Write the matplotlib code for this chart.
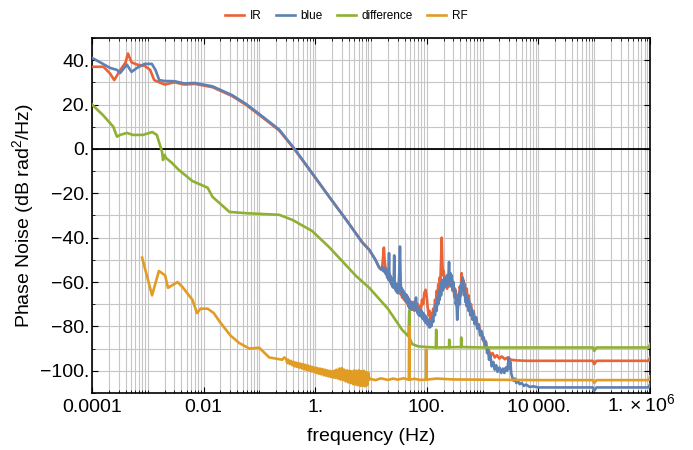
import numpy as np
import matplotlib
matplotlib.use("Agg")
import matplotlib.pyplot as plt
from matplotlib.ticker import FixedLocator, NullFormatter
from matplotlib.transforms import ScaledTranslation

plt.rcParams["font.family"] = ["Liberation Sans", "DejaVu Sans"]
plt.rcParams["mathtext.fontset"] = "custom"
plt.rcParams["mathtext.rm"] = "Liberation Sans"
plt.rcParams["mathtext.it"] = "Liberation Sans:italic"
plt.rcParams["xtick.direction"] = "in"
plt.rcParams["ytick.direction"] = "in"
plt.rcParams["xtick.top"] = True
plt.rcParams["ytick.right"] = True

## data (frequency in Hz, phase noise in dB rad^2/Hz)
ir_f = [1e-4, 1.6e-4, 2.1e-4, 2.5e-4, 3.2e-4, 4e-4, 4.4e-4, 5.1e-4, 6.4e-4, 8.8e-4,
        1.1e-3, 1.3e-3, 1.6e-3, 2e-3, 3e-3, 4.5e-3, 7e-3, 0.0144, 0.0325, 0.058,
        0.112, 0.226, 0.42, 0.88, 1.78, 3.6, 6.9, 9.3, 12, 14,
        15.5, 16, 16.5, 17, 17.5, 18, 18.5, 19, 19.5, 20, 20.5, 21, 21.5, 22, 22.5, 23,
        24, 25, 26, 27, 28, 29, 30, 31, 32, 33, 34, 35, 36, 37.5, 39, 40.5, 42, 43.5,
        45, 46.5, 48, 50, 52, 54, 56, 58, 60, 63, 66, 69, 72, 75, 78, 82, 86, 90, 95,
        100, 104, 108, 112, 116, 120, 125, 130, 135, 140, 145, 150, 155, 160, 165, 170,
        175, 180, 185, 190, 195, 200, 210, 220, 230, 240, 250, 260, 270, 280, 290, 300,
        315, 330, 345, 360, 375, 390, 405, 420, 435, 450, 465, 480, 500, 520, 540, 560,
        590, 620, 650, 690, 730, 770, 820, 870, 920, 980, 1050, 1120, 1200, 1300, 1400,
        1500, 1650, 1800, 2000, 2200, 2500, 2800, 3200, 4000, 6000, 2e4, 9.5e4, 1e5,
        1.1e5, 5e5, 9.5e5, 1e6]
ir_db = [37, 37, 34, 31, 35.5, 39, 43, 39, 38, 37.4,
         35.6, 31, 30, 29, 30, 29, 29.3, 27.8, 23.8, 19.8,
         14.3, 8.3, 0, -11, -21.6, -32, -42, -45.5, -50, -53.5,
         -54.5, -52, -48, -44.5, -50, -53, -55.5, -54, -57, -55.5, -58, -56, -59, -57, -60, -58,
         -61, -59, -62, -60.5, -63, -61, -64, -62, -65, -63, -65.5, -64, -67, -65, -68, -66, -69, -67,
         -70, -68, -71, -68.5, -72, -69, -72.5, -69, -71, -68.5, -72, -70, -74, -71, -73, -68, -70, -65, -63.5,
         -67, -72, -75, -73, -77, -74, -76.5, -72, -74, -68, -70, -64, -67, -61, -64, -58,
         -60, -50, -40, -52, -57, -55, -60, -58, -63, -59, -62, -57, -61, -59, -64, -61,
         -67, -64, -70, -66, -68, -62, -64, -56, -61, -59, -64, -61, -66, -63, -69, -66,
         -72, -70, -75, -73, -78, -76, -81, -80, -84, -83, -87, -86.5, -90, -91, -93,
         -92, -94, -93, -94.5, -93.5, -94.8, -94, -95, -95.3, -95.5, -95.5, -95.5, -97,
         -95.5, -95.5, -95.5, -94]

blue_f = [1e-4, 1.4e-4, 2.1e-4, 2.8e-4, 3.2e-4, 4.2e-4, 5.1e-4, 6.4e-4, 8.8e-4, 1.18e-3,
          1.37e-3, 1.6e-3, 2e-3, 3e-3, 4.5e-3, 7e-3, 0.0144, 0.0325, 0.058,
          0.112, 0.226, 0.42, 0.88, 1.78, 3.6, 6.9, 9.3, 12, 14,
          15.5, 16, 16.5, 17, 17.5, 18, 18.5, 19, 19.5, 20, 20.5, 21, 21.4, 22, 22.5, 23,
          23.5, 24, 24.5, 25, 25.5, 26, 26.5, 27, 27.5, 28, 28.5, 29, 29.5, 30, 30.5, 31,
          32, 33, 34, 35, 36, 37, 38, 39, 40, 41, 42, 43, 44, 45, 46, 47, 48, 49, 50,
          52, 54, 56, 58, 60, 62, 64, 66, 68, 70, 72, 75, 78, 81, 84, 87, 90, 93, 96,
          100, 104, 108, 112, 116, 120, 125, 130, 135, 140, 145, 150, 155, 160, 165, 170,
          175, 180, 185, 190, 195, 200, 210, 220, 230, 240, 250, 258, 265, 272, 280, 290,
          300, 310, 320, 330, 340, 350, 360, 370, 380, 390, 400, 410, 420, 430, 440, 450,
          460, 470, 480, 490, 500, 520, 540, 560, 580, 600, 630, 660, 690, 720, 760, 800,
          850, 900, 950, 1000, 1050, 1100, 1150, 1200, 1250, 1300, 1380, 1450, 1550, 1650,
          1750, 1850, 2000, 2150, 2300, 2450, 2600, 2750, 2850, 2950, 3050, 3150, 3250,
          3400, 3600, 3800, 4000, 4300, 4600, 5000, 5500, 6000, 7000, 8000, 1e4, 9.5e4,
          1e5, 1.1e5, 5e5, 9.5e5, 1e6]
blue_db = [41, 39, 36.5, 35.6, 34.2, 38, 34.7, 36.5, 38.3, 38.3,
           35.6, 31, 30.6, 30.5, 29.5, 29.7, 28.2, 24.2, 20.2,
           14.7, 8.7, 0.2, -11, -21.6, -32, -42, -45.5, -50, -53.5,
           -54.5, -53, -55, -53.5, -55.5, -54, -56.5, -55, -58, -56, -59, -47, -58, -60, -57.5, -61,
           -58.5, -62, -59.5, -62.5, -60, -48, -61, -63, -60.5, -64, -61, -64.5, -62, -65, -62, -64,
           -56, -44, -60, -65, -63, -66.5, -64, -67, -65, -68, -65.5, -69, -66, -69.5, -67, -71, -68, -72, -69,
           -72.5, -69.5, -72, -70, -73, -70, -67, -72, -74, -71.5, -75, -72.5, -75.5, -73, -76.5, -74, -77.5, -75, -78.5,
           -76, -79.5, -77, -80.5, -78, -80, -76, -78, -73, -75, -70, -73, -67, -70, -64, -68,
           -62, -66, -60, -64, -59, -63, -58, -62, -57, -61, -51, -60, -56, -62, -57, -63,
           -60, -66, -63, -70, -68, -77, -72, -68, -65, -70, -62, -66, -60, -64, -58, -63,
           -60, -66, -63, -69, -66, -71, -67, -73, -69, -75, -72, -77, -74, -79, -76, -81,
           -79, -84, -82, -86, -85, -89, -87, -92, -90, -95, -93, -98, -96, -99.5,
           -97.5, -100.5, -98.5, -101, -99, -101, -98.5, -100, -97, -94, -99, -96, -101,
           -103, -104.5, -103.5, -105.5, -104.5, -106, -105.5, -106.8, -106.2, -107.3, -107, -107.5, -107.5,
           -109, -107.5, -107.5, -107.5, -106]

diff_f = [1e-4, 1.6e-4, 2.4e-4, 2.8e-4, 3.2e-4, 4.2e-4, 5.4e-4, 8.2e-4, 1.2e-3, 1.45e-3,
          1.8e-3, 1.87e-3, 2e-3, 2.1e-3, 2.7e-3, 3.6e-3, 6.3e-3, 0.0118, 0.0144, 0.029,
          0.06, 0.226, 0.39, 0.88, 1.78, 5.4, 9.3, 20, 36, 47, 48.4, 49.5, 55, 70, 100,
          145, 147, 150, 250, 252, 255, 410, 413, 416, 1000, 1e4, 9.5e4, 1e5, 1.1e5,
          5e5, 9.5e5, 1e6]
diff_db = [20, 15, 10, 5.5, 6.3, 7.2, 6.3, 6.3, 7.6, 6.3,
           -1.4, -5, -2.7, -4, -6.3, -9.5, -14.5, -17.5, -21.6, -28.4,
           -29, -29.7, -32, -37, -44.3, -57.3, -62.6, -72, -81.5, -84.5, -73, -85.5, -88, -89, -89.3,
           -89.5, -81.5, -89.5, -89.4, -86, -89.4, -89.3, -85, -89.3, -89.5, -89.5, -89.5, -91, -89.5,
           -89.5, -89.5, -88]

rf_f = [7.9e-4, 1.19e-3, 1.58e-3, 2.04e-3, 2.3e-3, 3.4e-3, 4.1e-3, 6.3e-3, 7.6e-3, 8.8e-3,
        0.0118, 0.0152, 0.0196, 0.03, 0.0435, 0.066, 0.099, 0.15, 0.256, 0.28,
        0.3, 0.315, 0.33, 0.35, 0.37, 0.39, 0.41, 0.43, 0.45, 0.47, 0.5, 0.52, 0.55,
        0.58, 0.61, 0.64, 0.67, 0.7, 0.74, 0.78, 0.82, 0.86, 0.9, 0.95, 1.0, 1.05,
        1.1, 1.16, 1.22, 1.28, 1.35, 1.42, 1.49, 1.56, 1.64, 1.72, 1.81, 1.9, 2.0,
        2.1, 2.2, 2.3, 2.4, 2.55, 2.7, 2.85, 3.0, 3.15, 3.3, 3.5, 3.7, 3.9, 4.1, 4.3,
        4.5, 4.75, 5.0, 5.25, 5.5, 5.8, 6.1, 6.4, 6.7, 7.0, 7.4, 7.8, 8.2, 8.6, 9.0,
        9.3, 9.5, 12, 15, 20, 25, 30, 38, 46, 47.5, 48.4, 49.3, 60, 75, 95,
        97, 97.5, 98, 150, 300, 1000, 1e4, 9.5e4, 1e5, 1.1e5, 5e5, 9.6e5, 1e6]
rf_db = [-49, -66, -55, -57, -62.6, -60, -62, -68, -74, -72,
         -72, -74, -78, -84, -87.5, -90, -89.6, -94, -95, -94,
         -94.5, -96.5, -95, -97, -95.5, -97.5, -96, -98, -96.3, -98.2, -96.5, -98.6, -96.8,
         -99, -97, -99.3, -97.3, -99.6, -97.6, -100, -98, -100.3, -98.3, -100.6, -98.5, -101,
         -98.8, -101.3, -99, -101.6, -99.2, -102, -99.5, -102.2, -99.8, -102.5, -100, -102.8, -100.2,
         -103, -100, -103.2, -99.5, -103.5, -99, -104, -98.8, -104.2, -99.5, -104.8, -99.8, -105.2, -100, -105.5,
         -100.2, -106, -99.8, -106.2, -100, -106.5, -99.8, -106.8, -100.2, -106.8, -100, -107, -100.5, -106.5, -101,
         -104, -103.6, -104.2, -103.4, -104.1, -103.5, -104, -103.4, -103.9, -104, -80, -104, -103.6, -104.1, -104,
         -103.8, -90.5, -104, -103.5, -103.9, -104, -104.2, -104.2, -105.5, -104.2, -104.2, -104.2, -102.5]

c_ir = "#EB6235"
c_blue = "#5E81B5"
c_diff = "#8FB032"
c_rf = "#E19C24"

fig = plt.figure(figsize=(6.93, 4.5), dpi=100)
ax = fig.add_axes([0.1328, 0.1267, 0.8052, 0.789])

lw = 1.9
ax.plot(ir_f, ir_db, color=c_ir, lw=lw, label="IR", zorder=3)
ax.plot(blue_f, blue_db, color=c_blue, lw=lw, label="blue", zorder=3)
ax.plot(diff_f, diff_db, color=c_diff, lw=lw, label="difference", zorder=3)
ax.plot(rf_f, rf_db, color=c_rf, lw=lw, label="RF", zorder=3)
ax.axhline(0, color="black", lw=1.3, zorder=2)

ax.set_xscale("log")
ax.set_xlim(1e-4, 1e6)
ax.set_ylim(-110, 50)

xmaj = [1e-4, 1e-2, 1, 1e2, 1e4, 1e6]
ax.xaxis.set_major_locator(FixedLocator(xmaj))
xmin = []
for d in range(-4, 6):
    for m in range(1, 10):
        v = m * 10.0 ** d
        if not (m == 1 and (d % 2 == 0)):
            xmin.append(v)
ax.xaxis.set_minor_locator(FixedLocator(xmin))
ax.xaxis.set_minor_formatter(NullFormatter())

yt = [40, 20, 0, -20, -40, -60, -80, -100]
ax.set_yticks(yt)
ax.set_yticklabels([("\u2212" if v < 0 else "") + f"{abs(v)}." for v in yt])
ax.yaxis.set_minor_locator(FixedLocator(list(range(-110, 51, 10))))

ax.grid(True, which="both", color="#c6c6c6", lw=0.8, zorder=0)
ax.set_axisbelow(True)
ax.tick_params(which="major", length=4, width=0.8, labelsize=14)
ax.tick_params(axis="x", which="major", pad=4)
ax.tick_params(axis="y", which="major", pad=2)
ax.tick_params(which="minor", length=2, width=0.6)
for s in ax.spines.values():
    s.set_linewidth(1.2)

xlabels = ax.set_xticklabels(["0.0001", "0.01", "1.", "100.", "10\u2009000.", r"$1.\times10^{6}$"])
# the exponent makes this label taller, lift it so its baseline matches the others
xlabels[-1].set_transform(xlabels[-1].get_transform()
                          + ScaledTranslation(-0.09, 0.055, fig.dpi_scale_trans))

ax.set_xlabel("frequency (Hz)", fontsize=14, labelpad=9)
ax.set_ylabel(r"Phase Noise (dB rad$^{2}$/Hz)", fontsize=14, labelpad=3)

fig.legend(loc="center", bbox_to_anchor=(0.5, 0.965), ncol=4, frameon=False,
           fontsize=8.5, handlelength=1.6, columnspacing=1.2, handletextpad=0.5)

fig.savefig("out.png", dpi=100)
